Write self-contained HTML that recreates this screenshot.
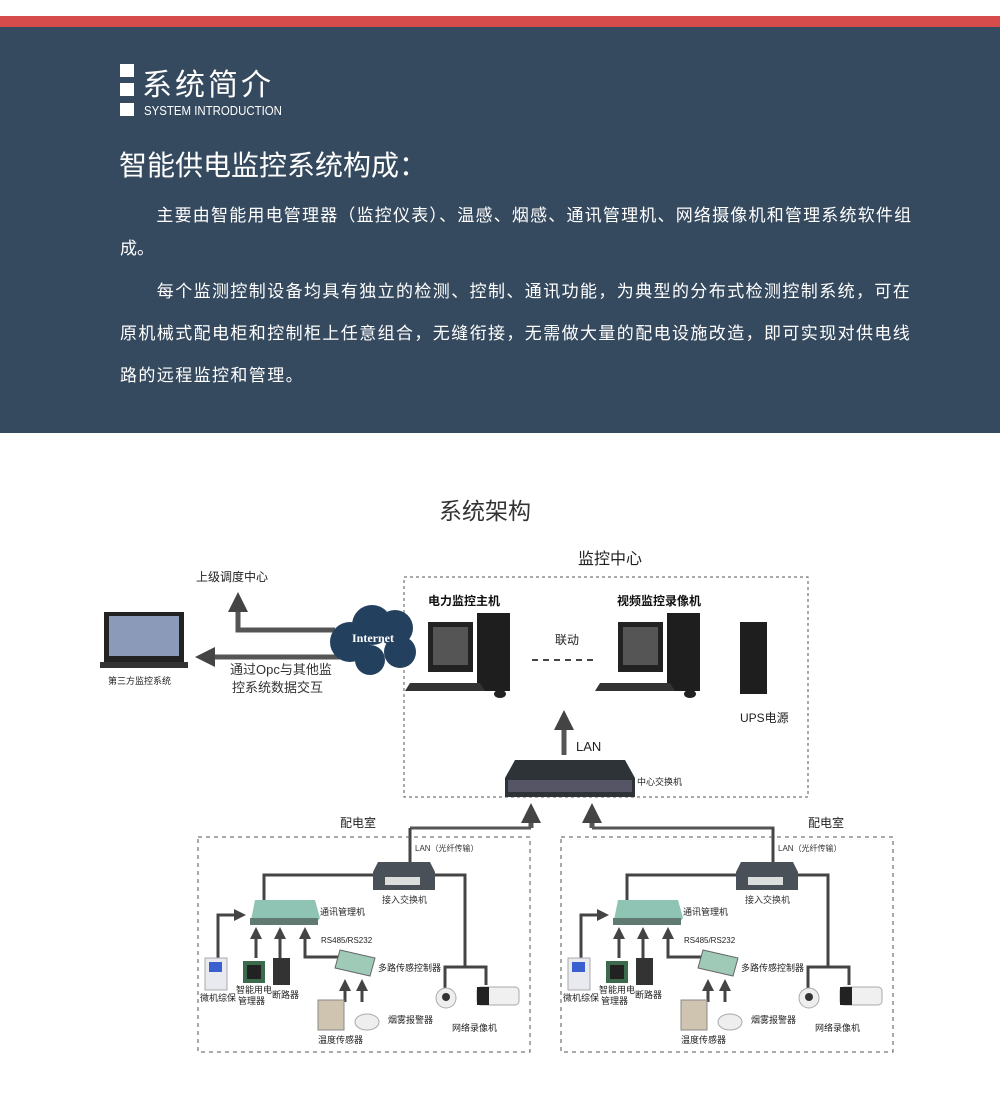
<!DOCTYPE html>
<html><head><meta charset="utf-8"><style>
body{margin:0;width:1000px;height:1104px;position:relative;background:#fff;font-family:"Liberation Sans","Noto Sans CJK SC",sans-serif;overflow:hidden}
.a{position:absolute;white-space:nowrap}
#red{left:0;top:16px;width:1000px;height:11px;background:#d64b4b}
#blue{left:0;top:27px;width:1000px;height:406px;background:#364a5f}
.sq{position:absolute;left:120px;width:14px;height:13px;background:#fff}
.p{color:#fff;font-size:17px;left:120px}
</style></head><body>
<div class="a" id="red"></div><div class="a" id="blue"></div>
<div class="sq" style="top:64px"></div><div class="sq" style="top:83px"></div><div class="sq" style="top:103px"></div>
<div class="a" style="left:142px;top:60px;color:#fff;font-size:30px;letter-spacing:3px">系统简介</div>
<div class="a" style="left:144px;top:103px;color:#fff;font-size:13px;transform:scaleX(0.88);transform-origin:left">SYSTEM INTRODUCTION</div>
<div class="a" style="left:119px;top:144px;color:#fff;font-size:28px">智能供电监控系统构成：</div>
<div class="a p" style="top:201px;letter-spacing:1.2px">　　主要由智能用电管理器（监控仪表）、温感、烟感、通讯管理机、网络摄像机和管理系统软件组</div>
<div class="a p" style="top:234px">成。</div>
<div class="a p" style="top:277px;letter-spacing:1.4px">　　每个监测控制设备均具有独立的检测、控制、通讯功能，为典型的分布式检测控制系统，可在</div>
<div class="a p" style="top:319px;letter-spacing:1.4px">原机械式配电柜和控制柜上任意组合，无缝衔接，无需做大量的配电设施改造，即可实现对供电线</div>
<div class="a p" style="top:361px;letter-spacing:1.4px">路的远程监控和管理。</div>
<svg class="a" style="left:0;top:0" width="1000" height="1104" font-family="Liberation Sans,Noto Sans CJK SC,sans-serif">
<defs>
<marker id="ah" markerWidth="4" markerHeight="4" refX="2" refY="2" orient="auto"><path d="M0,0L4,2L0,4z" fill="#444"/></marker>
<g id="room">
<text x="415" y="851" font-size="8" fill="#333">LAN（光纤传输）</text>
<polyline points="410,866 410,828" stroke="#444" stroke-width="3" fill="none"/>
<polyline points="373,875 264,875 264,900" stroke="#444" stroke-width="3" fill="none"/>
<polyline points="435,875 465,875 465,967" stroke="#444" stroke-width="3" fill="none"/>
<polyline points="445,992 445,967 486,967 486,985" stroke="#444" stroke-width="3" fill="none"/>
<path d="M378,862h52l5,10v18h-62v-18z" fill="#4a5058"/><rect x="385" y="877" width="35" height="8" fill="#ddd"/>
<text x="382" y="903" font-size="9" fill="#333">接入交换机</text>
<path d="M255,900h60l5,18l-5,7h-65z" fill="#8fc4b4"/><rect x="250" y="918" width="68" height="7" fill="#607a72"/>
<text x="320" y="915" font-size="9" fill="#222">通讯管理机</text>
<g stroke="#444" stroke-width="3" fill="none" marker-end="url(#ah)">
<polyline points="218,958 218,915 240,915"/>
<polyline points="256,958 256,933"/><polyline points="280,958 280,933"/>
<polyline points="338,957 305,957 305,933"/>
<polyline points="345,1002 345,985"/><polyline points="362,1002 362,985"/>
</g>
<text x="321" y="943" font-size="8" fill="#222">RS485/RS232</text>
<rect x="205" y="958" width="22" height="32" fill="#e8eaf0" stroke="#aaa"/><rect x="209" y="962" width="13" height="10" fill="#3a5fcf"/>
<rect x="243" y="961" width="22" height="22" fill="#3c6a4c"/><rect x="247" y="965" width="14" height="14" fill="#222"/>
<rect x="273" y="958" width="17" height="27" fill="#333"/>
<text x="200" y="1001" font-size="9" fill="#222">微机综保</text>
<text x="236" y="993" font-size="9" fill="#222">智能用电</text><text x="238" y="1004" font-size="9" fill="#222">管理器</text>
<text x="272" y="998" font-size="9" fill="#222">断路器</text>
<path d="M340,950l35,8l-5,18l-35,-8z" fill="#9fcab8" stroke="#666"/>
<text x="378" y="971" font-size="9" fill="#222">多路传感控制器</text>
<rect x="318" y="1000" width="26" height="30" fill="#cfc4b0" stroke="#888"/>
<ellipse cx="367" cy="1022" rx="12" ry="8" fill="#eee" stroke="#aaa"/>
<text x="388" y="1023" font-size="9" fill="#222">烟雾报警器</text>
<text x="318" y="1043" font-size="9" fill="#222">温度传感器</text>
<circle cx="446" cy="998" r="10" fill="#eee" stroke="#aaa"/><circle cx="446" cy="997" r="4" fill="#333"/>
<rect x="477" y="987" width="42" height="18" rx="4" fill="#f0f0f0" stroke="#aaa"/><rect x="477" y="987" width="12" height="18" fill="#222"/>
<text x="452" y="1031" font-size="9" fill="#222">网络录像机</text>
<rect x="198" y="837" width="332" height="215" fill="none" stroke="#555" stroke-dasharray="4,4"/>
</g>
</defs>
<text x="485" y="519" font-size="23" fill="#333" text-anchor="middle">系统架构</text>
<text x="610" y="564" font-size="16" fill="#222" text-anchor="middle">监控中心</text>
<rect x="404" y="577" width="404" height="220" fill="none" stroke="#555" stroke-dasharray="3,3"/>
<text x="196" y="581" font-size="12" fill="#222">上级调度中心</text>
<rect x="104" y="612" width="80" height="50" fill="#222"/><rect x="109" y="616" width="70" height="40" fill="#8a9ab8"/>
<rect x="100" y="662" width="88" height="6" fill="#333"/>
<text x="108" y="684" font-size="9" fill="#222">第三方监控系统</text>
<g stroke="#555" stroke-width="5" fill="none" marker-end="url(#ah)">
<polyline points="335,630 238,630 238,602"/>
<polyline points="340,657 205,657"/>
<polyline points="564,755 564,720"/>
<polyline points="531,828 531,813"/><polyline points="592,828 592,813"/>
</g>
<polyline points="410,828 531,828" stroke="#555" stroke-width="3" fill="none"/>
<polyline points="592,828 773,828 773,866" stroke="#555" stroke-width="3" fill="none"/>
<text x="230" y="674" font-size="13" fill="#333">通过Opc与其他监</text>
<text x="232" y="692" font-size="13" fill="#333">控系统数据交互</text>
<g fill="#24405f"><circle cx="350" cy="642" r="20"/><circle cx="372" cy="625" r="20"/><circle cx="395" cy="628" r="18"/><circle cx="400" cy="652" r="16"/><circle cx="370" cy="660" r="15"/></g>
<text x="373" y="642" font-size="12" font-weight="bold" fill="#fff" text-anchor="middle" font-family="Liberation Serif,serif">Internet</text>
<text x="428" y="605" font-size="12" font-weight="bold" fill="#111">电力监控主机</text>
<text x="617" y="605" font-size="12" font-weight="bold" fill="#111">视频监控录像机</text>
<g id="pc"><rect x="428" y="622" width="45" height="50" fill="#222"/><rect x="433" y="627" width="35" height="38" fill="#555"/>
<rect x="477" y="613" width="33" height="78" fill="#1e1e1e"/><path d="M410,683h70l5,8h-80z" fill="#333"/><ellipse cx="500" cy="694" rx="6" ry="4" fill="#222"/></g>
<use href="#pc" transform="translate(190,0)"/>
<text x="555" y="644" font-size="12" fill="#222">联动</text>
<line x1="532" y1="660" x2="596" y2="660" stroke="#444" stroke-width="2" stroke-dasharray="6,5"/>
<rect x="740" y="622" width="27" height="72" fill="#1e1e1e"/>
<text x="740" y="722" font-size="12" fill="#222">UPS电源</text>
<text x="576" y="751" font-size="13" fill="#222">LAN</text>
<path d="M515,760h110l10,18v19h-130v-19z" fill="#2e3338"/><rect x="508" y="780" width="124" height="12" fill="#556"/>
<text x="637" y="785" font-size="9" fill="#222">中心交换机</text>
<text x="340" y="827" font-size="12" fill="#222">配电室</text>
<text x="808" y="827" font-size="12" fill="#222">配电室</text>
<use href="#room"/>
<use href="#room" transform="translate(363,0)"/>
</svg>
</body></html>
